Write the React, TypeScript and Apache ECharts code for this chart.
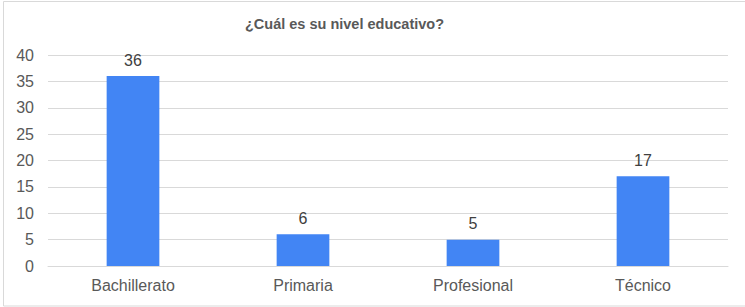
import React, { useEffect, useRef } from "react";
import * as echarts from "echarts";

const categories = ["Bachillerato", "Primaria", "Profesional", "Técnico"];
const values = [36, 6, 5, 17];
const title = "¿Cuál es su nivel educativo?";

export default function App() {
  const ref = useRef<HTMLDivElement>(null);
  useEffect(() => {
    if (!ref.current) return;
    const chart = echarts.init(ref.current, undefined, { renderer: "svg" });
    const font = "Liberation Sans, Arial, sans-serif";
    chart.setOption({
      animation: false,
      backgroundColor: "#ffffff",
      graphic: [
        {
          type: "rect",
          shape: { x: 3.5, y: 1.5, width: 760, height: 304.5 },
          style: { fill: "none", stroke: "#d9d9d9", lineWidth: 1 },
          silent: true,
        },
        {
          type: "text",
          left: 245,
          top: 16,
          style: {
            text: title,
            font: `bold 14.5px ${font}`,
            fill: "#595959",
          },
        },
      ],
      grid: { left: 48, right: 17, top: 55, bottom: 41 },
      xAxis: {
        type: "category",
        data: categories,
        axisLine: { show: true, lineStyle: { color: "#d9d9d9" } },
        axisTick: { show: false },
        axisLabel: { color: "#595959", fontSize: 16, fontFamily: font, margin: 11 },
      },
      yAxis: {
        type: "value",
        min: 0,
        max: 40,
        interval: 5,
        axisLine: { show: false },
        axisTick: { show: false },
        splitLine: { lineStyle: { color: "#d9d9d9" } },
        axisLabel: { color: "#595959", fontSize: 16, fontFamily: font, margin: 14 },
      },
      series: [
        {
          type: "bar",
          data: values,
          barWidth: "31%",
          itemStyle: { color: "#4285F4" },
          label: {
            show: true,
            position: "top",
            distance: 8,
            color: "#404040",
            fontSize: 16,
            fontFamily: font,
          },
        },
      ],
    });
    return () => chart.dispose();
  }, []);
  return (
    <div
      ref={ref}
      style={{ position: "fixed", left: 0, top: 0, width: 745, height: 307 }}
    />
  );
}
